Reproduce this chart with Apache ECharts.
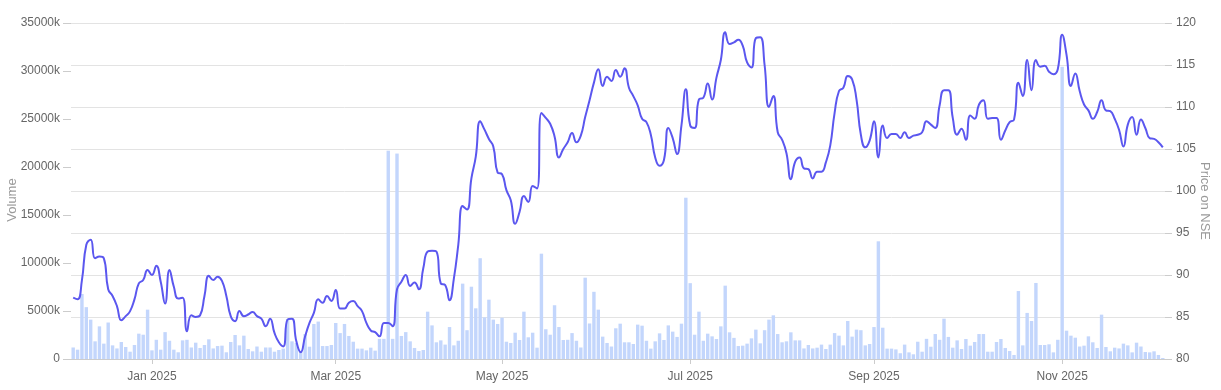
<!DOCTYPE html>
<html><head><meta charset="utf-8">
<script src="https://cdn.jsdelivr.net/npm/echarts@6/dist/echarts.min.js"></script>
<style>html,body{margin:0;padding:0;background:#fff}#c{width:1221px;height:390px}</style>
</head><body><div id="c"></div>
<script>
// Trading calendar (NSE), one bar per trading day
const startDate = '2024-12-05';
const endDate = '2025-12-05';
const holidays = ['2024-12-25','2025-02-26','2025-03-14','2025-03-31','2025-04-10','2025-04-14','2025-04-18','2025-08-15','2025-08-27','2025-10-02','2025-10-22','2025-11-05'];
const monthNames = ['Jan','Feb','Mar','Apr','May','Jun','Jul','Aug','Sep','Oct','Nov','Dec'];
const labelMonths = [0, 2, 4, 6, 8, 10];

// Daily volume, thousands of shares
const volumeK = [
  1200,970,6770,5400,4100,1840,3400,1600,3800,1420,1100,1770,1250,760,1460,2640,2530,5140,900,2000,970,2800,1900,970,700,1940,2000,1200,1700,1150,1460,2050,1100,1350,1390,700,1770,2500,1420,2430,1040,800,
  1300,760,1200,1200,760,940,1080,4170,1840,1670,730,2600,1280,3650,3900,1350,1350,1460,3750,2700,3650,2400,1800,1080,1080,900,1180,870,2100,2100,21700,2100,21400,2400,2800,1840,1150,830,940,4930,3500,1740,
  1940,1500,3330,1420,1900,7850,3000,7530,5280,10500,4340,6180,4100,3650,4300,1800,1670,2740,1980,4930,2260,2740,1180,10970,3100,2530,5600,3330,1980,2000,2700,1900,1200,8470,3700,7000,5140,2330,1670,1300,3200,3680,1740,1740,1560,3580,3470,1900,1080,1840,2670,1980,3500,2850,2300,3680,16800,7900,2530,4930,1900,2640,2360,2080,3400,7640,2780,2200,1350,1390,1600,2150,3060,1630,3000,4100,4550,2600,1740,1840,2780,1940,1940,
  1100,1460,1100,1180,1500,1040,1500,2700,2430,1420,3960,2330,3060,3000,1420,1560,3330,12260,3260,1080,1080,1000,600,1500,690,490,1800,760,2100,1280,2600,2000,4200,2300,1180,1940,1040,2080,1390,1770,2600,2600,
  760,760,1770,2080,1150,830,420,7080,1420,4800,3960,7920,1460,1460,1530,690,2000,30450,2950,2430,2220,1300,1390,2360,1740,1150,4620,1250,800,1180,1100,1600,1420,690,1700,1300,730,690,800,420,100
];

// Closing price on NSE
const price = [
  87.3,87.1,89.4,93.6,94.2,92.0,92.2,92.0,88.3,87.5,86.3,84.6,85.1,85.7,87.1,89.0,89.4,90.6,90.0,91.1,89.2,86.6,90.6,88.6,87.2,87.3,83.3,85.2,85.0,85.2,87.5,89.9,89.4,89.8,89.3,87.5,85.1,84.5,85.7,85.1,85.3,85.6,
  85.1,84.8,83.9,84.8,83.1,82.0,81.5,84.7,84.8,82.1,80.8,82.7,84.3,85.5,87.1,86.7,87.5,86.9,88.2,86.0,86.0,86.7,86.9,86.3,85.7,84.3,83.4,83.2,82.7,84.3,84.3,83.9,88.3,89.2,90.0,88.7,89.1,88.3,90.8,92.8,92.9,92.8,
  89.0,88.8,87.0,89.6,93.6,98.2,97.8,101.5,104.1,108.3,107.3,106.2,105.3,102.2,102.0,100.1,98.9,96.1,97.5,99.4,98.7,100.6,100.3,109.3,108.7,108.0,106.5,104.0,105.0,105.8,106.9,105.8,106.6,108.8,110.8,
  112.9,114.5,112.5,113.6,113.1,114.4,113.6,114.6,112.3,111.3,110.2,108.6,108.2,106.7,104.0,103.0,103.7,107.5,106.3,104.4,107.8,112.1,107.8,107.5,110.9,111.1,112.8,110.9,113.5,115.6,118.9,117.5,117.7,118.0,117.3,115.3,114.7,118.2,118.3,115.0,110.0,111.3,107.0,106.1,104.5,101.4,103.5,104.0,
  102.7,102.6,101.5,102.3,102.3,103.4,105.4,109.3,111.9,112.3,113.7,113.3,110.9,106.7,105.2,106.0,108.3,104.0,107.8,106.3,106.8,106.8,106.3,107.0,106.3,106.6,106.7,107.0,108.3,107.9,107.5,110.2,112.0,112.0,108.7,106.7,107.4,106.1,109.0,108.6,110.3,110.8,
  108.6,108.7,108.7,106.1,107.2,108.2,108.5,112.9,111.3,115.6,112.0,115.6,114.8,114.9,114.2,113.9,114.5,118.6,116.2,112.5,114.0,111.9,110.3,109.6,108.6,109.4,110.8,109.6,109.5,108.6,107.3,105.3,107.9,108.8,106.7,108.5,107.5,106.3,106.2,105.8,105.2
];

function buildDates() {
  const out = [];
  const d = new Date(startDate + 'T00:00:00Z');
  const end = new Date(endDate + 'T00:00:00Z');
  while (d <= end) {
    const wd = d.getUTCDay();
    const s = d.toISOString().slice(0, 10);
    if (wd !== 0 && wd !== 6 && holidays.indexOf(s) < 0) out.push(s);
    d.setUTCDate(d.getUTCDate() + 1);
  }
  return out;
}
const dates = buildDates();
const labelIdx = {};
dates.forEach((s, i) => {
  if (i === 0) return;
  const m = +s.slice(5, 7) - 1, pm = +dates[i - 1].slice(5, 7) - 1;
  if (m !== pm && labelMonths.indexOf(m) >= 0) labelIdx[i] = true;
});
const showAt = (i) => !!labelIdx[i];

const FONT = '"Liberation Sans", Arial, sans-serif';
const chart = echarts.init(document.getElementById('c'), null, { renderer: 'canvas' });
chart.setOption({
  animation: false,
  backgroundColor: '#ffffff',
  textStyle: { fontFamily: FONT },
  grid: { left: 71, right: 56, top: 23, bottom: 31, containLabel: false, outerBoundsMode: 'none' },
  xAxis: {
    type: 'category',
    data: dates,
    boundaryGap: true,
    axisLine: { show: true, lineStyle: { color: '#cccccc', width: 1 } },
    axisTick: { show: true, alignWithLabel: true, interval: showAt, length: 5, lineStyle: { color: '#cccccc' } },
    axisLabel: {
      interval: showAt, margin: 12, color: '#666666', fontSize: 12, fontFamily: FONT,
      formatter: (v) => monthNames[+v.slice(5, 7) - 1] + ' ' + v.slice(0, 4)
    },
    splitLine: { show: false }
  },
  yAxis: [
    {
      type: 'value', position: 'left', min: 0, max: 35000, interval: 5000,
      name: 'Volume', nameLocation: 'middle', nameGap: 52, nameMoveOverlap: false,
      nameTextStyle: { color: '#9a9a9a', fontSize: 13, fontFamily: FONT, padding: [0, 18, 0, 0] },
      axisLine: { show: false },
      axisTick: { show: true, length: 8, lineStyle: { color: '#cccccc' } },
      axisLabel: { margin: 11, color: '#666666', fontSize: 12, fontFamily: FONT, formatter: (v) => (v === 0 ? '0' : v + 'k') },
      splitLine: { show: false }
    },
    {
      type: 'value', position: 'right', min: 80, max: 120, interval: 5,
      name: 'Price on NSE', nameLocation: 'middle', nameGap: 33, nameRotate: -90, nameMoveOverlap: false,
      nameTextStyle: { color: '#9a9a9a', fontSize: 13, fontFamily: FONT, padding: [0, 0, 0, 20] },
      axisLine: { show: false },
      axisTick: { show: true, length: 7, lineStyle: { color: '#cccccc' } },
      axisLabel: { margin: 11, color: '#666666', fontSize: 12, fontFamily: FONT },
      splitLine: { show: true, lineStyle: { color: '#e3e3e3', width: 1 } }
    }
  ],
  series: [
    {
      name: 'Volume', type: 'bar', yAxisIndex: 0, data: volumeK,
      barCategoryGap: '22%',
      itemStyle: { color: '#c3d6fc' },
      z: 1
    },
    {
      name: 'Price', type: 'line', yAxisIndex: 1, data: price,
      smooth: 0.5, symbol: 'none',
      lineStyle: { color: '#5b57ef', width: 2 },
      z: 3
    }
  ]
});
</script>
</body></html>
